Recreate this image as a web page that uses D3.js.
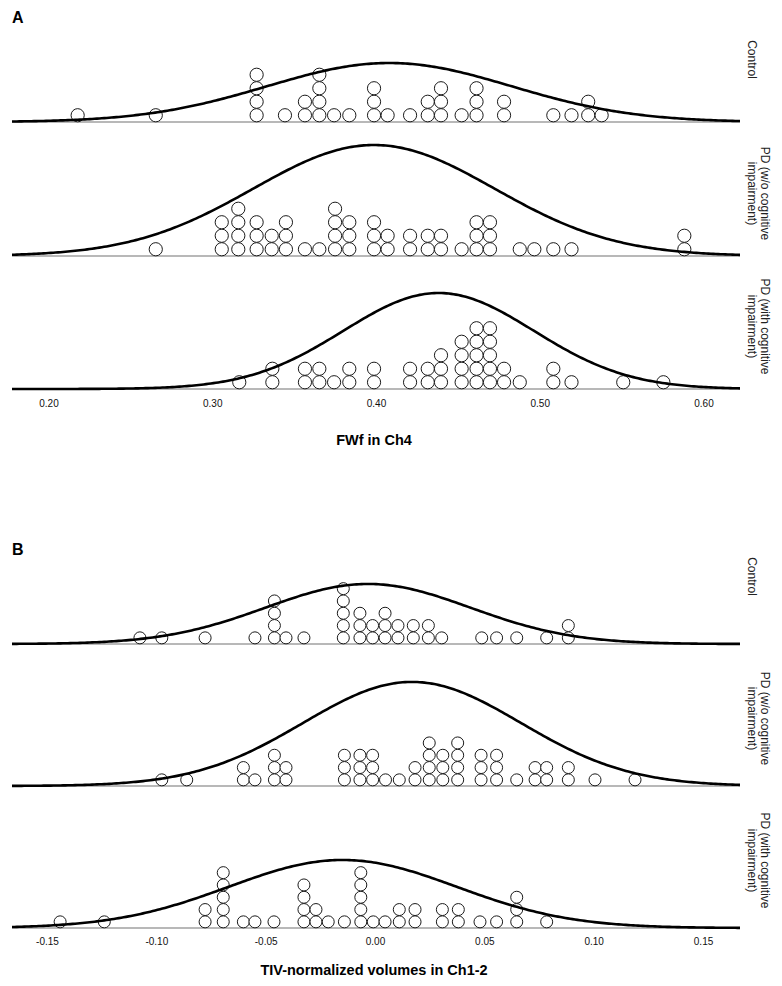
<!DOCTYPE html>
<html>
<head>
<meta charset="utf-8">
<script src="https://cdn.jsdelivr.net/npm/d3@7"></script>
<style>
  html, body { margin: 0; padding: 0; background: #fff; }
  svg { display: block; font-family: "Liberation Sans", Arial, sans-serif; }
</style>
</head>
<body>
<svg id="chart" width="782" height="986"></svg>
<script>
// ---------------- DATA ----------------
const groupLabels = [
  ["Control"],
  ["PD (w/o cognitive", "impairment)"],
  ["PD (with cognitive", "impairment)"]
];

// Panel A: FWf in Ch4 (each value = one subject)
const fwfControl = [
  0.2178, 0.2655,
  0.3271, 0.3271, 0.3271, 0.3271,
  0.3444,
  0.3566, 0.3566,
  0.3654, 0.3654, 0.3654, 0.3654,
  0.3744, 0.3837,
  0.3988, 0.3988, 0.3988,
  0.4071, 0.4208,
  0.4316, 0.4316,
  0.4397, 0.4397, 0.4397,
  0.4523,
  0.4614, 0.4614, 0.4614,
  0.4782, 0.4782,
  0.5083, 0.5194,
  0.5296, 0.5296,
  0.5378
];
const fwfPDnoCI = [
  0.2655,
  0.3058, 0.3058, 0.3058,
  0.3159, 0.3159, 0.3159, 0.3159,
  0.3271, 0.3271, 0.3271,
  0.3363, 0.3363,
  0.3450, 0.3450, 0.3450,
  0.3566, 0.3654,
  0.3750, 0.3750, 0.3750, 0.3750,
  0.3837, 0.3837, 0.3837,
  0.3988, 0.3988, 0.3988,
  0.4071, 0.4071,
  0.4208, 0.4208,
  0.4316, 0.4316,
  0.4397, 0.4397,
  0.4523,
  0.4614, 0.4614, 0.4614,
  0.4696, 0.4696, 0.4696,
  0.4878, 0.4967, 0.5083, 0.5194,
  0.5883, 0.5883
];
const fwfPDCI = [
  0.3165,
  0.3367, 0.3367,
  0.3566, 0.3566,
  0.3654, 0.3654,
  0.3744,
  0.3837, 0.3837,
  0.3988, 0.3988,
  0.4208, 0.4208,
  0.4316, 0.4316,
  0.4397, 0.4397, 0.4397,
  0.4523, 0.4523, 0.4523, 0.4523,
  0.4614, 0.4614, 0.4614, 0.4614, 0.4614,
  0.4696, 0.4696, 0.4696, 0.4696, 0.4696,
  0.4782, 0.4782,
  0.4878,
  0.5083, 0.5083,
  0.5194, 0.5510, 0.5755
];

// Panel B: TIV-normalized volumes in Ch1-2
const tivControl = [
  -0.1075, -0.0975, -0.0777, -0.0549,
  -0.0460, -0.0460, -0.0460, -0.0460,
  -0.0407, -0.0325,
  -0.0145, -0.0145, -0.0145, -0.0145, -0.0145,
  -0.0069, -0.0069, -0.0069,
  -0.0011, -0.0011,
  0.0046, 0.0046, 0.0046,
  0.0105, 0.0105,
  0.0175, 0.0175,
  0.0244, 0.0244,
  0.0305, 0.0488, 0.0556, 0.0648, 0.0785,
  0.0884, 0.0884
];
const tivPDnoCI = [
  -0.0975, -0.0861,
  -0.0602, -0.0602,
  -0.0549,
  -0.0460, -0.0460, -0.0460,
  -0.0407, -0.0407,
  -0.0140, -0.0140, -0.0140,
  -0.0069, -0.0069, -0.0069,
  -0.0011, -0.0011, -0.0011,
  0.0048, 0.0111,
  0.0183, 0.0183,
  0.0248, 0.0248, 0.0248, 0.0248,
  0.0310, 0.0310, 0.0310,
  0.0378, 0.0378, 0.0378, 0.0378,
  0.0485, 0.0485, 0.0485,
  0.0556, 0.0556, 0.0556,
  0.0648,
  0.0732, 0.0732,
  0.0785, 0.0785,
  0.0884, 0.0884,
  0.1006, 0.1189
];
const tivPDCI = [
  -0.1440, -0.1238,
  -0.0777, -0.0777,
  -0.0694, -0.0694, -0.0694, -0.0694, -0.0694,
  -0.0602, -0.0549, -0.0462,
  -0.0325, -0.0325, -0.0325, -0.0325,
  -0.0270, -0.0270,
  -0.0214, -0.0140,
  -0.0065, -0.0065, -0.0065, -0.0065, -0.0065,
  -0.0008, 0.0046,
  0.0111, 0.0111,
  0.0183, 0.0183,
  0.0308, 0.0308,
  0.0381, 0.0381,
  0.0480, 0.0556,
  0.0648, 0.0648, 0.0648,
  0.0785
];

// Height of fitted normal curve peak (in dot-count units), per group
const fwfCurvePeak = [4.37, 8.22, 7.11];
const tivCurvePeak = [4.88, 8.46, 5.53];

// Tick labels
const fwfTickLabels = ["0.20", "0.30", "0.40", "0.50", "0.60"];
const tivTickLabels = ["-0.15", "-0.10", "-0.05", "0.00", "0.05", "0.10", "0.15"];

const fwfDomain = [0.1777, 0.6223];
const tivDomain = [-0.166, 0.1669];

// ---------------- DRAW ----------------
const svg = d3.select("#chart");
const X0 = 12, X1 = 740;

const panels = [
  {
    letter: "A", letterY: 23,
    domain: fwfDomain, ticks: fwfTickLabels, axisY: 397,
    title: "FWf in Ch4", titleY: 445,
    series: [fwfControl, fwfPDnoCI, fwfPDCI], peaks: fwfCurvePeak,
    baselines: [122, 256, 389], step: 13.5, r: 6.6, labelOffset: 62.5
  },
  {
    letter: "B", letterY: 555,
    domain: tivDomain, ticks: tivTickLabels, axisY: 935,
    title: "TIV-normalized volumes in Ch1-2", titleY: 975,
    series: [tivControl, tivPDnoCI, tivPDCI], peaks: tivCurvePeak,
    baselines: [644, 786, 928], step: 12.3, r: 6.0, labelOffset: 67.5
  }
];

panels.forEach(p => {
  const x = d3.scaleLinear().domain(p.domain).range([X0, X1]);
  const g = svg.append("g");

  g.append("text")
    .attr("x", 12).attr("y", p.letterY)
    .attr("font-size", 16).attr("font-weight", "bold").attr("fill", "#000")
    .text(p.letter);

  p.series.forEach((vals, i) => {
    const base = p.baselines[i];
    const y = d3.scaleLinear().domain([0, 1]).range([base, base - p.step]);
    const row = g.append("g");

    // baseline
    row.append("line")
      .attr("x1", X0).attr("x2", X1)
      .attr("y1", base).attr("y2", base)
      .attr("stroke", "#a0a0a0").attr("stroke-width", 1.3);

    // stacked dots
    const stacks = d3.groups(vals, v => v);
    const dots = [];
    stacks.forEach(([v, arr]) => arr.forEach((_, k) => dots.push({ v, k })));
    row.selectAll("circle").data(dots).join("circle")
      .attr("cx", d => x(d.v))
      .attr("cy", d => y(d.k + 0.5))
      .attr("r", p.r)
      .attr("fill", "#fff")
      .attr("stroke", "#1a1a1a")
      .attr("stroke-width", 1);

    // normal curve from data mean/sd
    const m = d3.mean(vals), s = d3.deviation(vals);
    const n = 300;
    const pts = d3.range(n + 1).map(j => {
      const xv = p.domain[0] + (p.domain[1] - p.domain[0]) * j / n;
      const z = (xv - m) / s;
      return [xv, p.peaks[i] * Math.exp(-0.5 * z * z)];
    });
    row.append("path")
      .datum(pts)
      .attr("fill", "none")
      .attr("stroke", "#000")
      .attr("stroke-width", 2.6)
      .attr("stroke-linejoin", "round")
      .attr("d", d3.line().x(d => x(d[0])).y(d => y(d[1])));

    // group label (rotated)
    const lines = groupLabels[i];
    const cy = base - p.labelOffset;
    lines.forEach((t, li) => {
      const bx = 747.5 + (lines.length - 1 - li) * 13;
      row.append("text")
        .attr("transform", `translate(${bx},${cy}) rotate(90)`)
        .attr("text-anchor", "middle")
        .attr("font-size", 12)
        .attr("fill", "#222")
        .text(t);
    });
  });

  // axis
  const axis = d3.axisBottom(x)
    .tickValues(p.ticks.map(Number))
    .tickFormat((d, k) => p.ticks[k])
    .tickSize(0).tickPadding(3);
  const ag = g.append("g").attr("transform", `translate(0,${p.axisY})`).call(axis);
  ag.select(".domain").remove();
  ag.selectAll("text")
    .attr("font-size", 10)
    .attr("font-family", "'Liberation Sans', Arial, sans-serif")
    .attr("fill", "#111");

  g.append("text")
    .attr("x", 374).attr("y", p.titleY)
    .attr("text-anchor", "middle")
    .attr("font-size", 14.5).attr("font-weight", "bold").attr("fill", "#000")
    .text(p.title);
});
</script>
</body>
</html>
